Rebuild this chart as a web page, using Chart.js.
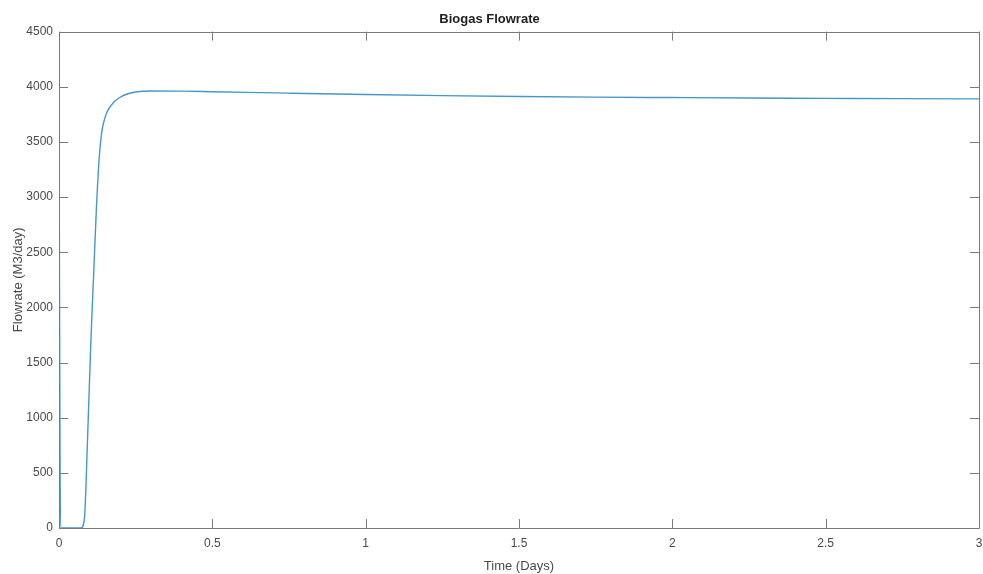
<!DOCTYPE html>
<html>
<head>
<meta charset="utf-8">
<script src="https://cdn.jsdelivr.net/npm/chart.js@4.4.1/dist/chart.umd.min.js"></script>
<style>
html,body{margin:0;padding:0;background:#fff;}
#wrap{width:983px;height:574px;position:relative;}
</style>
</head>
<body>
<div id="wrap"><canvas id="c" width="983" height="574"></canvas></div>
<script>
const chartTitle = 'Biogas Flowrate';
const xTitle = 'Time (Days)';
const yTitle = 'Flowrate (M3/day)';
const timeDays = [0, 0.005, 0.072, 0.083, 0.093, 0.104, 0.113, 0.122, 0.131, 0.14, 0.15, 0.16, 0.18, 0.2, 0.22, 0.25, 0.3, 0.4, 0.5, 0.75, 1.0, 1.25, 1.5, 1.75, 2.0, 2.25, 2.5, 2.75, 3.0];
const flowrate = [3700, 0, 0, 90, 800, 1700, 2300, 2900, 3350, 3600, 3720, 3790, 3865, 3905, 3932, 3953, 3962, 3960, 3955, 3942, 3930, 3920, 3912, 3906, 3902, 3898, 3895, 3892, 3890];
const xTicks = [0, 0.5, 1, 1.5, 2, 2.5, 3];
const yTicks = [0, 500, 1000, 1500, 2000, 2500, 3000, 3500, 4000, 4500];

const FONT = '"Liberation Sans", Arial, Helvetica, sans-serif';
const TXT = '#4a4a4a';
const AXC = '#7a7a7a';

const boxTicks = {
  id: 'boxTicks',
  afterDatasetsDraw(chart) {
    const {ctx, chartArea: a, scales} = chart;
    const L = 9;
    ctx.save();
    ctx.strokeStyle = AXC;
    ctx.lineWidth = 1;
    ctx.beginPath();
    ctx.rect(Math.round(a.left) + 0.5, Math.round(a.top) + 0.5, Math.round(a.right - a.left), Math.round(a.bottom - a.top));
    xTicks.forEach(v => {
      const px = Math.round(scales.x.getPixelForValue(v)) + 0.5;
      ctx.moveTo(px, a.bottom); ctx.lineTo(px, a.bottom - L);
      ctx.moveTo(px, a.top); ctx.lineTo(px, a.top + L);
    });
    yTicks.forEach(v => {
      const py = Math.round(scales.y.getPixelForValue(v)) + 0.5;
      ctx.moveTo(a.left, py); ctx.lineTo(a.left + L, py);
      ctx.moveTo(a.right, py); ctx.lineTo(a.right - L, py);
    });
    ctx.stroke();
    ctx.restore();
  }
};

new Chart(document.getElementById('c'), {
  type: 'line',
  data: {
    datasets: [{
      data: timeDays.map((t, i) => ({x: t, y: flowrate[i]})),
      borderColor: '#4398c9',
      borderWidth: 1.4,
      pointRadius: 0,
      cubicInterpolationMode: 'monotone',
      fill: false
    }]
  },
  plugins: [boxTicks],
  options: {
    responsive: false,
    animation: false,
    devicePixelRatio: 1,
    layout: {padding: {left: 0, right: 4, top: 0, bottom: 0}},
    plugins: {
      legend: {display: false},
      tooltip: {enabled: false},
      title: {
        display: true,
        text: chartTitle,
        color: '#222',
        font: {family: FONT, size: 13, weight: 'bold'},
        padding: {top: 12, bottom: 4}
      }
    },
    scales: {
      x: {
        type: 'linear',
        min: 0, max: 3,
        afterBuildTicks(s) { s.ticks = xTicks.map(v => ({value: v})); },
        afterFit(s) { s.height = 46; s.paddingLeft = 0; s.paddingRight = 0; },
        grid: {display: false, drawTicks: false},
        border: {display: false},
        ticks: {
          color: TXT, padding: 8,
          font: {family: FONT, size: 12},
          callback: v => String(v),
          maxRotation: 0
        },
        title: {display: true, text: xTitle, color: TXT, font: {family: FONT, size: 13}, padding: {top: 2, bottom: 0}}
      },
      y: {
        type: 'linear',
        min: 0, max: 4500,
        afterBuildTicks(s) { s.ticks = yTicks.map(v => ({value: v})); },
        afterFit(s) { s.width = 59; s.paddingTop = 0; s.paddingBottom = 0; },
        grid: {display: false, drawTicks: false},
        border: {display: false},
        ticks: {
          color: TXT, padding: 6,
          font: {family: FONT, size: 12},
          callback: v => String(v)
        },
        title: {display: true, text: yTitle, color: TXT, font: {family: FONT, size: 13}, padding: {top: 11, bottom: 4}}
      }
    }
  }
});
</script>
</body>
</html>
